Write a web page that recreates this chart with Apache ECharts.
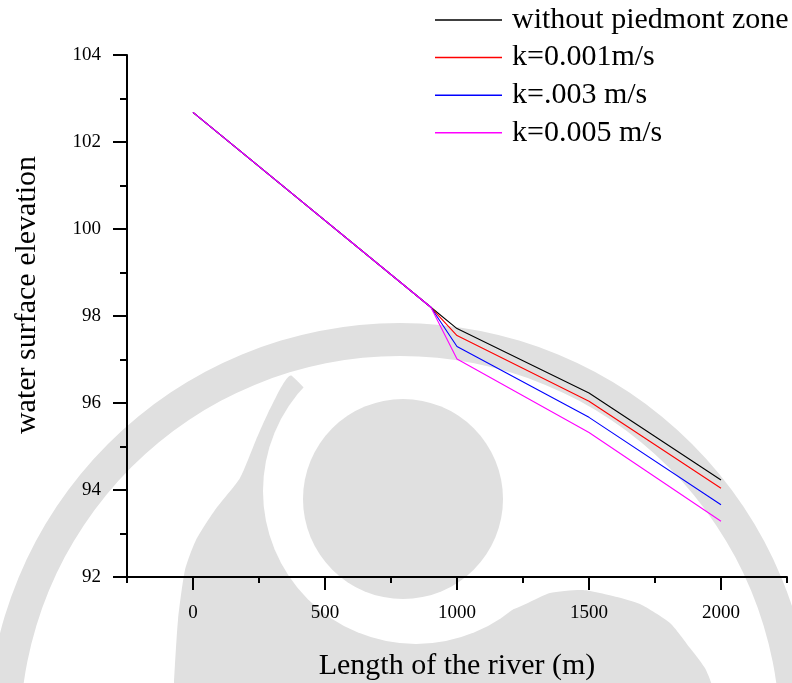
<!DOCTYPE html>
<html>
<head>
<meta charset="utf-8">
<script src="https://cdn.jsdelivr.net/npm/echarts@6/dist/echarts.min.js"></script>
<style>
html,body{margin:0;padding:0;background:#fff;}
#chart{width:792px;height:683px;}
</style>
</head>
<body>
<div id="chart"></div>
<script>
// ---- data ----
const lengthValues = [0, 901, 1000, 1500, 2000];
const seriesNames = ['without piedmont zone', 'k=0.001m/s', 'k=.003 m/s', 'k=0.005 m/s'];
const withoutPiedmont = [102.68, 98.2, 97.71, 96.23, 94.23];
const k0001 = [102.68, 98.2, 97.55, 96.04, 94.04];
const k0003 = [102.68, 98.2, 97.30, 95.67, 93.66];
const k0005 = [102.68, 98.2, 97.01, 95.32, 93.28];
const xMajorTicks = [0, 500, 1000, 1500, 2000];
const xMinorTicks = [-250, 250, 750, 1250, 1750, 2250];
const yTicks = [92, 94, 96, 98, 100, 102, 104];

const colors = ['#000000', '#ff0000', '#0000ff', '#ff00ff'];
const seriesValues = [withoutPiedmont, k0001, k0003, k0005];
const FONT = '"Liberation Serif", "Times New Roman", serif';
const WM = '#e0e0e0';

// decorative background watermark (not data)
const crescent = [[292,376],[272,405],[256,440],[240,478],[215,510],[196,540],[185,570],[178,620],[174,683],[174,695],
  [712,695],[706,670],[690,648],[670,623],[640,604],[617,597],[583,590],[550,593],[500,610]];

const chart = echarts.init(document.getElementById('chart'), null, {renderer: 'canvas'});

const option = {
  backgroundColor: '#ffffff',
  animation: false,
  graphic: [
    {type: 'polygon', z: -10, silent: true, shape: {points: crescent, smooth: 0.2}, style: {fill: WM}},
    {type: 'circle', z: -9, silent: true, shape: {cx: 416, cy: 491, r: 153}, style: {fill: '#ffffff'}},
    {type: 'circle', z: -8, silent: true, shape: {cx: 403, cy: 499, r: 100}, style: {fill: WM}},
    {type: 'ring', z: -7, silent: true, shape: {cx: 400, cy: 736, r: 413, r0: 380}, style: {fill: WM}}
  ],
  legend: {
    orient: 'vertical',
    left: 435,
    top: 5,
    padding: 0,
    itemWidth: 67,
    itemHeight: 1.5,
    itemGap: 7.6,
    icon: 'rect',
    textStyle: {fontFamily: FONT, fontSize: 30, color: '#000', lineHeight: 30, padding: [0, 0, 0, 5]},
    data: seriesNames
  },
  grid: {left: 127, right: 5, top: 55, bottom: 106, containLabel: false, outerBoundsMode: 'none'},
  xAxis: [
    {
      type: 'value', min: -250, max: 2250,
      name: 'Length of the river (m)', nameLocation: 'middle', nameGap: 74,
      nameTextStyle: {fontFamily: FONT, fontSize: 30, color: '#000'},
      axisLine: {show: true, onZero: false, lineStyle: {color: '#000', width: 2}},
      axisTick: {show: true, inside: false, length: 13, lineStyle: {color: '#000', width: 2}, customValues: xMajorTicks},
      axisLabel: {show: true, margin: 27, fontFamily: FONT, fontSize: 19, color: '#000', customValues: xMajorTicks,
        formatter: function (v) { return String(v); }},
      splitLine: {show: false}
    },
    {
      type: 'value', min: -250, max: 2250, position: 'bottom',
      axisLine: {show: false, onZero: false},
      axisTick: {show: true, inside: false, length: 6, lineStyle: {color: '#000', width: 2}, customValues: xMinorTicks},
      axisLabel: {show: false},
      splitLine: {show: false}
    }
  ],
  yAxis: {
    type: 'value', min: 92, max: 104, interval: 2,
    name: 'water surface elevation', nameLocation: 'middle', nameGap: 85,
    nameTextStyle: {fontFamily: FONT, fontSize: 30, color: '#000', padding: [0, 0, 0, 42]},
    axisLine: {show: true, onZero: false, lineStyle: {color: '#000', width: 2}},
    axisTick: {show: true, inside: false, length: 14, lineStyle: {color: '#000', width: 2}},
    minorTick: {show: true, splitNumber: 2, length: 7, lineStyle: {color: '#000', width: 2}},
    axisLabel: {margin: 26, fontFamily: FONT, fontSize: 19, color: '#000',
      formatter: function (v) { return yTicks.indexOf(v) >= 0 ? String(v) : ''; }},
    splitLine: {show: false},
    minorSplitLine: {show: false}
  },
  series: seriesNames.map(function (name, si) {
    return {
      name: name,
      type: 'line',
      xAxisIndex: 0,
      symbol: 'none',
      showSymbol: false,
      z: 3 + si,
      lineStyle: {color: colors[si], width: 1.1},
      itemStyle: {color: colors[si]},
      data: lengthValues.map(function (x, i) { return [x, seriesValues[si][i]]; })
    };
  })
};
chart.setOption(option);
</script>
</body>
</html>
